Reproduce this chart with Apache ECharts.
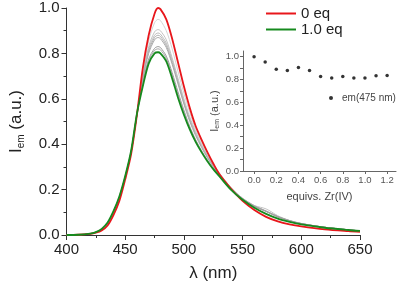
<!DOCTYPE html>
<html>
<head>
<meta charset="utf-8">
<script src="https://cdn.jsdelivr.net/npm/echarts@6/dist/echarts.min.js"></script>
<style>
  html, body { margin: 0; padding: 0; background: #fff; }
  #chart { width: 400px; height: 287px; }
</style>
</head>
<body>
<div id="chart"></div>
<script>
// emission spectra, wavelength grid (nm)
const wavelengths = [400, 410, 420, 425, 430, 435, 440, 445, 450, 455, 460, 465, 470, 475, 478, 480, 485, 490, 495, 500,
  505, 510, 515, 520, 525, 530, 540, 550, 560, 570, 580, 590, 600, 620, 640, 650];

const eq0 = [0, 0.001, 0.005, 0.01, 0.02, 0.042, 0.088, 0.15, 0.245, 0.355, 0.53, 0.735, 0.88, 0.975, 1.0, 0.995, 0.95, 0.865, 0.76, 0.655,
  0.56, 0.48, 0.42, 0.365, 0.315, 0.27, 0.205, 0.15, 0.11, 0.08, 0.06, 0.047, 0.038, 0.025, 0.017, 0.014];
const eq10 = [0, 0.001, 0.006, 0.013, 0.027, 0.055, 0.105, 0.17, 0.26, 0.37, 0.535, 0.655, 0.755, 0.8, 0.805, 0.8, 0.765, 0.69, 0.605, 0.53,
  0.465, 0.41, 0.365, 0.325, 0.29, 0.26, 0.2, 0.155, 0.12, 0.093, 0.072, 0.058, 0.047, 0.032, 0.022, 0.018];

// intermediate titration points (grey)
const grey1 = [0, 0.001, 0.005, 0.011, 0.023, 0.048, 0.095, 0.16, 0.25, 0.36, 0.53, 0.715, 0.855, 0.935, 0.95, 0.945, 0.9, 0.82, 0.72, 0.625,
  0.54, 0.465, 0.41, 0.36, 0.315, 0.275, 0.21, 0.16, 0.128, 0.105, 0.08, 0.062, 0.05, 0.033, 0.022, 0.017];
const grey2 = [0, 0.001, 0.005, 0.011, 0.024, 0.05, 0.098, 0.163, 0.253, 0.362, 0.53, 0.7, 0.83, 0.895, 0.905, 0.9, 0.86, 0.78, 0.69, 0.6,
  0.52, 0.455, 0.4, 0.352, 0.31, 0.272, 0.21, 0.162, 0.13, 0.115, 0.085, 0.064, 0.051, 0.034, 0.023, 0.018];
const grey3 = [0, 0.001, 0.005, 0.011, 0.024, 0.05, 0.099, 0.165, 0.255, 0.364, 0.53, 0.695, 0.82, 0.88, 0.89, 0.885, 0.845, 0.77, 0.68, 0.59,
  0.512, 0.448, 0.395, 0.348, 0.306, 0.27, 0.208, 0.162, 0.13, 0.106, 0.082, 0.064, 0.051, 0.034, 0.023, 0.018];
const grey4 = [0, 0.001, 0.005, 0.012, 0.025, 0.051, 0.1, 0.166, 0.256, 0.365, 0.53, 0.69, 0.81, 0.87, 0.88, 0.875, 0.835, 0.76, 0.672, 0.583,
  0.506, 0.443, 0.39, 0.344, 0.303, 0.268, 0.206, 0.16, 0.128, 0.105, 0.081, 0.063, 0.05, 0.034, 0.023, 0.018];
const grey5 = [0, 0.001, 0.005, 0.012, 0.025, 0.052, 0.101, 0.167, 0.257, 0.366, 0.53, 0.685, 0.8, 0.86, 0.87, 0.865, 0.826, 0.752, 0.665, 0.577,
  0.5, 0.438, 0.386, 0.34, 0.3, 0.265, 0.205, 0.16, 0.128, 0.105, 0.081, 0.063, 0.05, 0.034, 0.023, 0.018];
const grey6 = [0, 0.001, 0.006, 0.012, 0.026, 0.053, 0.103, 0.168, 0.258, 0.368, 0.532, 0.67, 0.775, 0.822, 0.83, 0.826, 0.788, 0.715, 0.63, 0.55,
  0.478, 0.42, 0.372, 0.33, 0.292, 0.26, 0.202, 0.158, 0.126, 0.104, 0.08, 0.062, 0.05, 0.034, 0.023, 0.018];
const grey7 = [0, 0.001, 0.006, 0.013, 0.026, 0.054, 0.104, 0.169, 0.259, 0.369, 0.533, 0.665, 0.767, 0.813, 0.82, 0.816, 0.778, 0.705, 0.62, 0.542,
  0.472, 0.415, 0.368, 0.327, 0.29, 0.258, 0.2, 0.157, 0.126, 0.104, 0.08, 0.062, 0.05, 0.034, 0.023, 0.018];
const greys = [grey1, grey2, grey3, grey4, grey5, grey6, grey7];
const greyColors = ['#d4d4d4', '#c4c4c4', '#bcbcbc', '#b0b0b0', '#a8a8a8', '#9a9a9a', '#a4a4a4'];

// inset: emission at 475 nm vs equivalents of Zr(IV)
const equivs = [0, 0.1, 0.2, 0.3, 0.4, 0.5, 0.6, 0.7, 0.8, 0.9, 1.0, 1.1, 1.2];
const em475 = [1.0, 0.953, 0.89, 0.88, 0.906, 0.88, 0.827, 0.813, 0.827, 0.813, 0.813, 0.833, 0.836];

const insetXTicks = [0, 0.2, 0.4, 0.6, 0.8, 1.0, 1.2];
const insetYLabels = [0, 0.2, 0.4, 0.6, 0.8, 1.0];
const insetYTicks = [0, 0.1, 0.2, 0.3, 0.4, 0.5, 0.6, 0.7, 0.8, 0.9, 1.0];

const font = 'Liberation Sans, Arial, sans-serif';
const pair = (xs, ys) => xs.map((x, i) => [x, ys[i]]);

const chart = echarts.init(document.getElementById('chart'));

const series = greys.map((g, i) => ({
  type: 'line',
  name: 'grey' + i,
  xAxisIndex: 0,
  yAxisIndex: 0,
  data: pair(wavelengths, g),
  smooth: 0.3,
  showSymbol: false,
  lineStyle: { color: greyColors[i], width: 1 },
  silent: true,
}));

series.push(
  {
    type: 'line',
    name: '0 eq',
    data: pair(wavelengths, eq0),
    smooth: 0.3,
    showSymbol: false,
    color: '#e8161b',
    lineStyle: { color: '#e8161b', width: 1.8 },
  },
  {
    type: 'line',
    name: '1.0 eq',
    data: pair(wavelengths, eq10),
    smooth: 0.3,
    showSymbol: false,
    color: '#168a1e',
    lineStyle: { color: '#168a1e', width: 1.8 },
  },
  {
    type: 'scatter',
    name: 'em(475 nm)',
    xAxisIndex: 1,
    yAxisIndex: 1,
    data: pair(equivs, em475),
    symbol: 'circle',
    symbolSize: 3.5,
    itemStyle: { color: '#000' },
  }
);

const option = {
  animation: false,
  textStyle: { fontFamily: font },
  legend: [
    {
      data: ['0 eq', '1.0 eq'],
      orient: 'vertical',
      left: 261,
      top: 1,
      itemWidth: 30,
      itemHeight: 2,
      itemGap: 1,
      icon: 'rect',
      textStyle: { fontSize: 15, color: '#222', fontFamily: font },
    },
    {
      data: ['em(475 nm)'],
      left: 324,
      top: 88,
      itemWidth: 4,
      itemHeight: 4,
      icon: 'circle',
      textStyle: { fontSize: 10, color: '#444', fontFamily: font, padding: [0, 0, 0, 4] },
    },
  ],
  grid: [
    { left: 58, right: 40, top: 8, bottom: 50 },
    { left: 243, right: 4, top: 51, bottom: 116 },
  ],
  xAxis: [
    {
      type: 'value',
      gridIndex: 0,
      min: 400,
      max: 650,
      interval: 50,
      name: 'λ (nm)',
      nameLocation: 'middle',
      nameGap: 30,
      nameTextStyle: { fontSize: 17, color: '#222', fontFamily: font },
      axisLine: { show: true, lineStyle: { color: '#333', width: 1 } },
      axisTick: { show: true, length: 5, lineStyle: { color: '#333' } },
      minorTick: { show: true, splitNumber: 2, length: 3, lineStyle: { color: '#333' } },
      axisLabel: { fontSize: 15, color: '#222', margin: 7 },
      splitLine: { show: false },
    },
    {
      type: 'value',
      gridIndex: 1,
      min: -0.1,
      max: 1.28,
      name: 'equivs. Zr(IV)',
      nameLocation: 'middle',
      nameGap: 20,
      nameTextStyle: { fontSize: 11, color: '#444', fontFamily: font },
      axisLine: { show: true, onZero: false, lineStyle: { color: '#666', width: 1 } },
      axisTick: { show: true, length: 3, customValues: insetXTicks, lineStyle: { color: '#666' } },
      axisLabel: {
        fontSize: 9.5,
        color: '#555',
        margin: 4,
        customValues: insetXTicks,
        formatter: (v) => v.toFixed(1),
      },
      splitLine: { show: false },
    },
  ],
  yAxis: [
    {
      type: 'value',
      gridIndex: 0,
      min: 0,
      max: 1.0,
      interval: 0.2,
      name: '{a|I}{b|em}{a| (a.u.)}',
      nameLocation: 'middle',
      nameGap: 40,
      nameRotate: 90,
      nameTextStyle: {
        rich: {
          a: { fontSize: 17, color: '#222', fontFamily: font, lineHeight: 20 },
          b: { fontSize: 10, color: '#222', fontFamily: font, verticalAlign: 'bottom', lineHeight: 20 },
        },
      },
      axisLine: { show: true, lineStyle: { color: '#333', width: 1 } },
      axisTick: { show: true, length: 5, lineStyle: { color: '#333' } },
      minorTick: { show: true, splitNumber: 2, length: 3, lineStyle: { color: '#333' } },
      axisLabel: { fontSize: 15, color: '#222', margin: 7, formatter: (v) => v.toFixed(1) },
      splitLine: { show: false },
    },
    {
      type: 'value',
      gridIndex: 1,
      min: 0,
      max: 1.05,
      name: '{a|I}{b|em}{a| (a.u.)}',
      nameLocation: 'middle',
      nameGap: 22,
      nameRotate: 90,
      nameTextStyle: {
        rich: {
          a: { fontSize: 11, color: '#444', fontFamily: font, lineHeight: 13 },
          b: { fontSize: 7, color: '#444', fontFamily: font, verticalAlign: 'bottom', lineHeight: 13 },
        },
      },
      axisLine: { show: true, onZero: false, lineStyle: { color: '#666', width: 1 } },
      axisTick: { show: true, length: 3, customValues: insetYTicks, lineStyle: { color: '#666' } },
      axisLabel: {
        fontSize: 9.5,
        color: '#555',
        margin: 4,
        customValues: insetYLabels,
        formatter: (v) => v.toFixed(1),
      },
      splitLine: { show: false },
    },
  ],
  series: series,
};

chart.setOption(option);
</script>
</body>
</html>
